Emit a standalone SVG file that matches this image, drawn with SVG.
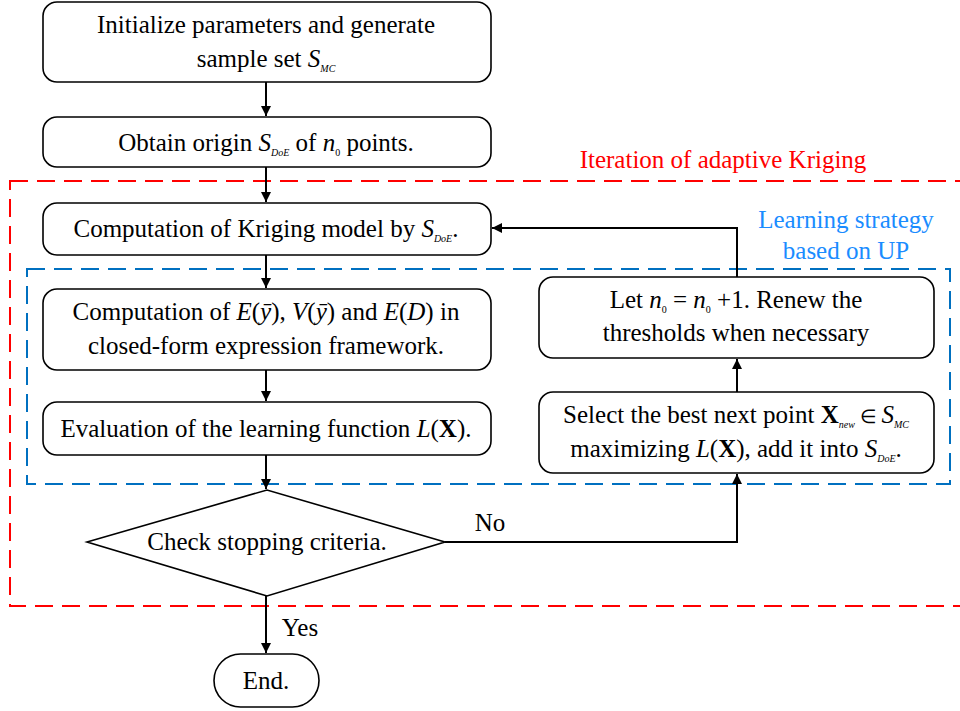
<svg xmlns="http://www.w3.org/2000/svg" width="960" height="711" viewBox="0 0 960 711">
<style>
.box{fill:#fff;stroke:#000;stroke-width:1.6}
.t{font-family:"Liberation Serif","Times New Roman",serif;font-size:25px;fill:#000;text-anchor:middle}
.i{font-style:italic}
.b{font-weight:bold}
.s{font-size:10px;font-style:italic}
.z{font-size:10px}
.c{fill:none;stroke:#000;stroke-width:2}
</style>
<defs>
<marker id="ah" viewBox="0 0 10 10" refX="10" refY="5" markerWidth="5" markerHeight="5" orient="auto-start-reverse">
<path d="M0,0 L10,5 L0,10 z" fill="#000"/>
</marker>
</defs>
<rect width="960" height="711" fill="#fff"/>
<g id="regions">
<rect x="10" y="181" width="970" height="425" fill="none" stroke="#ff0000" stroke-width="2" stroke-dasharray="18 9"/>
<text class="t" x="723" y="168" style="fill:#ff0000">Iteration of adaptive Kriging</text>
<rect x="27" y="269" width="923" height="215" fill="none" stroke="#0070c0" stroke-width="2" stroke-dasharray="18 9"/>
<text class="t" x="846" y="228" style="fill:#1a8cff">Learning strategy</text>
<text class="t" x="846" y="259" style="fill:#1a8cff">based on UP</text>
</g>
<g id="connectors">
<line class="c" x1="266" y1="82" x2="266" y2="116" marker-end="url(#ah)"/>
<line class="c" x1="266" y1="167" x2="266" y2="202" marker-end="url(#ah)"/>
<line class="c" x1="266" y1="255" x2="266" y2="288" marker-end="url(#ah)"/>
<line class="c" x1="266" y1="370" x2="266" y2="401" marker-end="url(#ah)"/>
<line class="c" x1="266" y1="455" x2="266" y2="489" marker-end="url(#ah)"/>
<line class="c" x1="266" y1="596" x2="266" y2="653" marker-end="url(#ah)"/>
<polyline class="c" points="445,542 737,542 737,474" marker-end="url(#ah)"/>
<line class="c" x1="737" y1="392" x2="737" y2="359" marker-end="url(#ah)"/>
<polyline class="c" points="737,277 737,228 492,228" marker-end="url(#ah)"/>
<text class="t" x="490" y="531">No</text>
<text class="t" x="300" y="636">Yes</text>
</g>
<g id="n1">
<rect class="box" x="43" y="2" width="448" height="80" rx="14"/>
<text class="t" x="266" y="33">Initialize parameters and generate</text>
<text class="t" x="266" y="67">sample set <tspan class="i">S</tspan><tspan class="s" dy="5">MC</tspan></text>
</g>
<g id="n2">
<rect class="box" x="43" y="117" width="448" height="50" rx="14"/>
<text class="t" x="266" y="151">Obtain origin <tspan class="i">S</tspan><tspan class="s" dy="5">DoE</tspan><tspan dy="-5"> of </tspan><tspan class="i">n</tspan><tspan class="z" dy="5">0</tspan><tspan dy="-5"> points.</tspan></text>
</g>
<g id="n3">
<rect class="box" x="43" y="203" width="448" height="52" rx="14"/>
<text class="t" x="266" y="237">Computation of Kriging model by <tspan class="i">S</tspan><tspan class="s" dy="5">DoE</tspan><tspan dy="-5">.</tspan></text>
</g>
<g id="n4">
<rect class="box" x="43" y="289" width="448" height="81" rx="14"/>
<text class="t" x="266" y="320">Computation of <tspan class="i">E</tspan>(<tspan class="i">ȳ</tspan>), <tspan class="i">V</tspan>(<tspan class="i">ȳ</tspan>) and <tspan class="i">E</tspan>(<tspan class="i">D</tspan>) in</text>
<text class="t" x="266" y="354">closed-form expression framework.</text>
</g>
<g id="n5">
<rect class="box" x="43" y="402" width="448" height="53" rx="14"/>
<text class="t" x="266" y="437">Evaluation of the learning function <tspan class="i">L</tspan>(<tspan class="b">X</tspan>).</text>
</g>
<g id="n6">
<rect class="box" x="539" y="277" width="395" height="81" rx="14"/>
<text class="t" x="736" y="308">Let <tspan class="i">n</tspan><tspan class="z" dy="5">0</tspan><tspan dy="-5"> = </tspan><tspan class="i">n</tspan><tspan class="z" dy="5">0</tspan><tspan dy="-5"> +1. Renew the</tspan></text>
<text class="t" x="736" y="341">thresholds when necessary</text>
</g>
<g id="n7">
<rect class="box" x="539" y="392" width="395" height="81" rx="14"/>
<text class="t" x="736" y="423">Select the best next point <tspan class="b">X</tspan><tspan class="s" dy="5">new</tspan><tspan dy="-5" font-size="19px"> ∈ </tspan><tspan class="i">S</tspan><tspan class="s" dy="5">MC</tspan></text>
<text class="t" x="736" y="457">maximizing <tspan class="i">L</tspan>(<tspan class="b">X</tspan>), add it into <tspan class="i">S</tspan><tspan class="s" dy="5">DoE</tspan><tspan dy="-5">.</tspan></text>
</g>
<g id="n8">
<polygon class="box" points="87,542 267,490 445,542 267,596"/>
<text class="t" x="267" y="550">Check stopping criteria.</text>
</g>
<g id="n9">
<rect class="box" x="214" y="654" width="105" height="53" rx="26.5"/>
<text class="t" x="266" y="689">End.</text>
</g>
</svg>
